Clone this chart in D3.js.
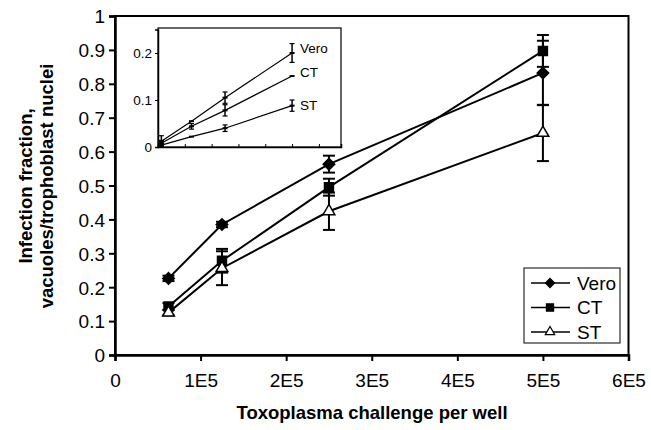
<!DOCTYPE html>
<html>
<head>
<meta charset="utf-8">
<script src="https://cdn.jsdelivr.net/npm/d3@7"></script>
<style>
  body { margin: 0; background: #fff; }
  svg { display: block; }
</style>
</head>
<body>
<div id="chart"></div>
<script>
// challenge per well (x) and infection fraction per cell type
const challenge = [62500, 125000, 250000, 500000];
const vero = [0.226, 0.385, 0.563, 0.832];
const veroErr = [0.008, 0.008, 0.025, 0.095];
const ct = [0.143, 0.278, 0.495, 0.897];
const ctErr = [0.01, 0.035, 0.025, 0.047];
const st = [0.125, 0.256, 0.424, 0.655];
const stErr = [0.008, 0.05, 0.055, 0.083];

const xTicks = [0, 100000, 200000, 300000, 400000, 500000, 600000];
const xTickLabels = ["0", "1E5", "2E5", "3E5", "4E5", "5E5", "6E5"];
const yTicks = [0, 0.1, 0.2, 0.3, 0.4, 0.5, 0.6, 0.7, 0.8, 0.9, 1];

// inset: low challenge range
const insetX = [1000, 10000, 20000, 40000];
const insetVero = [0.012, 0.055, 0.105, 0.2];
const insetVeroErr = [0.012, 0, 0.012, 0.02];
const insetCT = [0.008, 0.044, 0.078, 0.151];
const insetCTErr = [0.006, 0.006, 0.012, 0];
const insetST = [0.004, 0.022, 0.04, 0.088];
const insetSTErr = [0.004, 0, 0.007, 0.012];
const insetYTicks = [0, 0.1, 0.2];
const insetXTicks = [8000, 16000, 24000, 32000, 40000, 48000];

const seriesNames = ["Vero", "CT", "ST"];

const width = 651, height = 430;
const fontFamily = "Liberation Sans, Arial, sans-serif";

const svg = d3.select("#chart").append("svg")
  .attr("width", width).attr("height", height);

const x = d3.scaleLinear().domain([0, 600000]).range([115, 628.5]);
const y = d3.scaleLinear().domain([0, 1]).range([355, 16]);

// frame (top and right)
svg.append("rect")
  .attr("x", x(0)).attr("y", y(1))
  .attr("width", x(600000) - x(0)).attr("height", y(0) - y(1))
  .attr("fill", "none").attr("stroke", "#000").attr("stroke-width", 2);

// axes
const xAxis = svg.append("g")
  .attr("transform", `translate(0,${y(0)})`)
  .call(d3.axisBottom(x).tickValues(xTicks).tickFormat((d, i) => xTickLabels[i]).tickSize(6).tickPadding(13));
const yAxis = svg.append("g")
  .attr("transform", `translate(${x(0)},0)`)
  .call(d3.axisLeft(y).tickValues(yTicks).tickFormat(d => d === 0 || d === 1 ? d : d.toFixed(1)).tickSize(6).tickPadding(4));
[xAxis, yAxis].forEach(a => {
  a.select(".domain").attr("stroke-width", 2.5);
  a.selectAll(".tick line").attr("stroke-width", 2);
  a.selectAll("text").attr("font-family", fontFamily).attr("font-size", 19).attr("fill", "#000");
});
yAxis.selectAll("text").attr("dy", "0.36em");

// axis titles
svg.append("text")
  .attr("x", 372).attr("y", 419)
  .attr("text-anchor", "middle")
  .attr("font-family", fontFamily).attr("font-size", 18.5).attr("font-weight", "bold")
  .text("Toxoplasma challenge per well");

const yTitle = svg.append("g").attr("transform", "translate(0,186) rotate(-90)");
yTitle.append("text").attr("x", 0).attr("y", 32)
  .attr("text-anchor", "middle")
  .attr("font-family", fontFamily).attr("font-size", 18.5).attr("font-weight", "bold")
  .text("Infection fraction,");
yTitle.append("text").attr("x", 0).attr("y", 53)
  .attr("text-anchor", "middle")
  .attr("font-family", fontFamily).attr("font-size", 18.5).attr("font-weight", "bold")
  .text("vacuoles/trophoblast nuclei");

// markers
const diamond = d3.symbol().type(d3.symbolSquare).size(66)();
const square = d3.symbol().type(d3.symbolSquare).size(80)();
const triangle = d3.symbol().type(d3.symbolTriangle).size(60)();
const markers = [
  { path: diamond, rotate: 45, fill: "#000" },
  { path: square, rotate: 0, fill: "#000" },
  { path: triangle, rotate: 0, fill: "#fff" }
];

const mainSeries = [
  { values: vero, err: veroErr },
  { values: ct, err: ctErr },
  { values: st, err: stErr }
];

const line = d3.line().x(d => x(d[0])).y(d => y(d[1]));
const plot = svg.append("g");

mainSeries.forEach(s => {
  plot.append("path")
    .attr("d", line(challenge.map((c, i) => [c, s.values[i]])))
    .attr("fill", "none").attr("stroke", "#000").attr("stroke-width", 2);
});

mainSeries.forEach(s => {
  challenge.forEach((c, i) => {
    const cx = x(c);
    const top = y(s.values[i] + s.err[i]);
    const bot = y(s.values[i] - s.err[i]);
    plot.append("line").attr("x1", cx).attr("x2", cx).attr("y1", top).attr("y2", bot)
      .attr("stroke", "#000").attr("stroke-width", 2);
    [top, bot].forEach(yy => {
      plot.append("line").attr("x1", cx - 6).attr("x2", cx + 6).attr("y1", yy).attr("y2", yy)
        .attr("stroke", "#000").attr("stroke-width", 2);
    });
  });
});

mainSeries.forEach((s, k) => {
  challenge.forEach((c, i) => {
    plot.append("path")
      .attr("d", markers[k].path)
      .attr("transform", `translate(${x(c)},${y(s.values[i])}) rotate(${markers[k].rotate})`)
      .attr("fill", markers[k].fill).attr("stroke", "#000").attr("stroke-width", 1.5);
  });
});

// legend
const legend = svg.append("g");
legend.append("rect")
  .attr("x", 524).attr("y", 268).attr("width", 96).attr("height", 75)
  .attr("fill", "#fff").attr("stroke", "#000").attr("stroke-width", 1);
seriesNames.forEach((name, k) => {
  const ly = 283 + k * 24.5;
  legend.append("line").attr("x1", 531).attr("x2", 570).attr("y1", ly).attr("y2", ly)
    .attr("stroke", "#000").attr("stroke-width", 1.5);
  legend.append("path")
    .attr("d", markers[k].path)
    .attr("transform", `translate(550,${ly}) rotate(${markers[k].rotate}) scale(0.8)`)
    .attr("fill", markers[k].fill).attr("stroke", "#000").attr("stroke-width", 1.5);
  legend.append("text").attr("x", 577).attr("y", ly).attr("dy", "0.36em")
    .attr("font-family", fontFamily).attr("font-size", 19)
    .text(name);
});

// inset
const ix = d3.scaleLinear().domain([0, 54600]).range([158, 341]);
const iy = d3.scaleLinear().domain([0, 0.25]).range([147, 29.5]);

const inset = svg.append("g");
inset.append("rect")
  .attr("x", 158).attr("y", 28).attr("width", 183).attr("height", 119)
  .attr("fill", "#fff").attr("stroke", "#000").attr("stroke-width", 1.2);

const iyAxis = inset.append("g")
  .attr("transform", "translate(158,0)")
  .call(d3.axisLeft(iy).tickValues(insetYTicks).tickFormat(d => d === 0 ? "0" : d.toFixed(1)).tickSize(3).tickPadding(3));
iyAxis.select(".domain").attr("stroke-width", 1.5);
iyAxis.selectAll("text").attr("font-family", fontFamily).attr("font-size", 13.5).attr("fill", "#000");

const ixAxis = inset.append("g")
  .attr("transform", "translate(0,147)")
  .call(d3.axisTop(ix).tickValues(insetXTicks).tickFormat("").tickSize(3));
ixAxis.select(".domain").attr("stroke-width", 1.5);

const insetSeries = [
  { values: insetVero, err: insetVeroErr },
  { values: insetCT, err: insetCTErr },
  { values: insetST, err: insetSTErr }
];
const iline = d3.line().x(d => ix(d[0])).y(d => iy(d[1]));

insetSeries.forEach(s => {
  inset.append("path")
    .attr("d", iline(insetX.map((c, i) => [c, s.values[i]])))
    .attr("fill", "none").attr("stroke", "#000").attr("stroke-width", 1.2);
  insetX.forEach((c, i) => {
    const cx = ix(c), cy = iy(s.values[i]);
    // small dash marker
    inset.append("line").attr("x1", cx - 2.5).attr("x2", cx + 2.5).attr("y1", cy).attr("y2", cy)
      .attr("stroke", "#000").attr("stroke-width", 2);
    if (s.err[i] > 0) {
      const top = iy(s.values[i] + s.err[i]);
      const bot = iy(s.values[i] - s.err[i]);
      inset.append("line").attr("x1", cx).attr("x2", cx).attr("y1", top).attr("y2", bot)
        .attr("stroke", "#000").attr("stroke-width", 1.5);
      [top, bot].forEach(yy => {
        inset.append("line").attr("x1", cx - 2.5).attr("x2", cx + 2.5).attr("y1", yy).attr("y2", yy)
          .attr("stroke", "#000").attr("stroke-width", 1.2);
      });
    }
  });
});

seriesNames.forEach((name, k) => {
  const ly = [53, 77, 110][k];
  inset.append("text").attr("x", 300).attr("y", ly)
    .attr("font-family", fontFamily).attr("font-size", 13.5)
    .text(name);
});
</script>
</body>
</html>
